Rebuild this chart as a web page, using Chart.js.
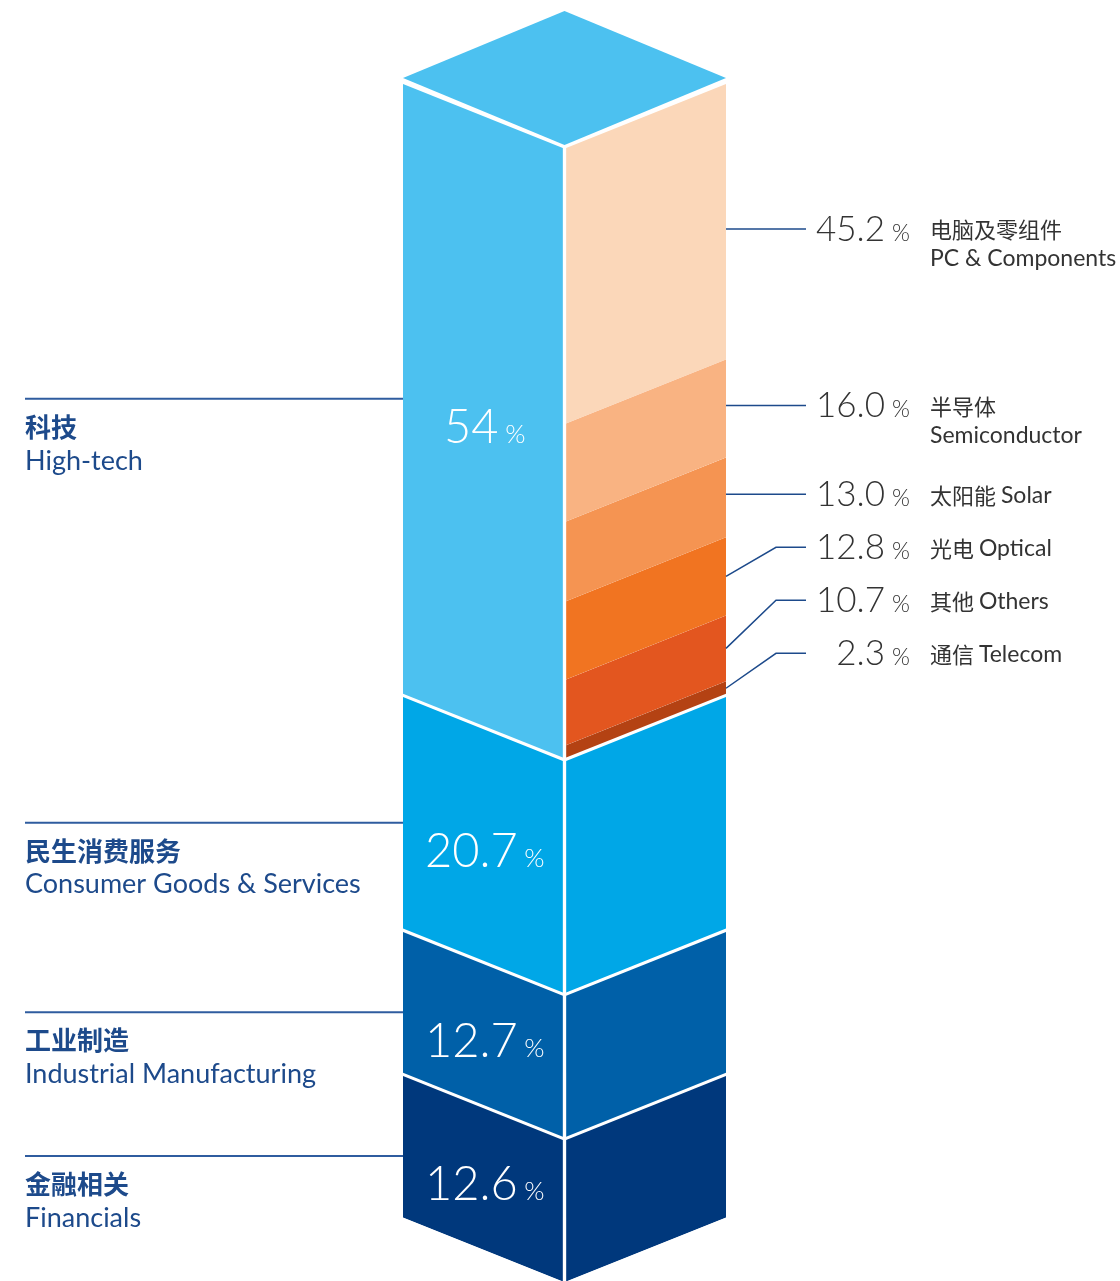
<!DOCTYPE html>
<html>
<head>
<meta charset="utf-8">
<script src="https://cdn.jsdelivr.net/npm/chart.js@4.4.0/dist/chart.umd.min.js"></script>
<style>
  html, body { margin: 0; padding: 0; background: #fff; overflow: hidden; }
  canvas { display: block; }
</style>
</head>
<body>
<canvas id="graficoCubo" width="1120" height="1300"></canvas>
<script>
// Sectores principales (cara izquierda), de abajo hacia arriba
const sectoresEn = ["Financials", "Industrial Manufacturing", "Consumer Goods & Services", "High-tech"];
const sectoresZh = ["金融相关", "工业制造", "民生消费服务", "科技"];
const valoresSector = [12.6, 12.7, 20.7, 54];
const coloresSector = ["#00387c", "#0060a8", "#00a7e7", "#4cc1f0"];

// Desglose de High-tech (cara derecha), de abajo hacia arriba
const subEn = ["Telecom", "Others", "Optical", "Solar", "Semiconductor", "PC & Components"];
const subZh = ["通信", "其他", "光电", "太阳能", "半导体", "电脑及零组件"];
const valoresSub = [2.3, 10.7, 12.8, 13.0, 16.0, 45.2];
const coloresSub = ["#b44213", "#e3561f", "#f17421", "#f59452", "#f9b382", "#fbd7b9"];

const PENDIENTE = 0.40;      // inclinación de las caras laterales
const PENDIENTE_TAPA = 0.415; // inclinación del rombo superior
const AZUL_TEXTO = "#1d4a8b";
const GRIS_TEXTO = "#333333";
const FUENTE = 'Lato, "Open Sans", sans-serif';
const FUENTE_ZH = '"Noto Sans CJK SC", sans-serif';

const idxHighTech = sectoresEn.indexOf("High-tech");

// Armar los datasets: cada sector tiene [cara izquierda, cara derecha]
const datasets = [];
sectoresEn.forEach((nombre, i) => {
  const esHighTech = i === idxHighTech;
  datasets.push({
    label: nombre,
    data: esHighTech ? [valoresSector[i], null] : [valoresSector[i], valoresSector[i]],
    backgroundColor: coloresSector[i],
    borderColor: "#ffffff",
    borderSkipped: false,
    borderWidth: (c) => c.dataIndex === 0
      ? { top: 2, bottom: i === 0 ? 0 : 2, left: 0, right: 2 }
      : { top: 2, bottom: i === 0 ? 0 : 2, left: 2, right: 0 },
  });
  if (esHighTech) {
    valoresSub.forEach((v, j) => {
      datasets.push({
        label: subEn[j],
        data: [null, (valoresSector[i] * v) / 100],
        backgroundColor: coloresSub[j],
        borderColor: "#ffffff",
        borderSkipped: false,
        borderWidth: {
          top: j === valoresSub.length - 1 ? 2 : 0,
          bottom: j === 0 ? 2 : 0,
          left: 2,
          right: 0,
        },
        esSub: true,
        subIndex: j,
      });
    });
  }
});

// Dibuja cada barra inclinada (cara izquierda baja hacia el centro, derecha sube)
const pluginInclinar = {
  id: "inclinar",
  beforeDatasetDraw(chart, args) {
    const ctx = chart.ctx;
    const area = chart.chartArea;
    const cx = (area.left + area.right) / 2;
    const ds = chart.data.datasets[args.index];
    args.meta.data.forEach((barra, k) => {
      if (ds.data[k] == null) return;
      const b = k === 0 ? PENDIENTE : -PENDIENTE;
      ctx.save();
      ctx.transform(1, b, 0, 1, 0, -b * cx);
      barra.draw(ctx);
      ctx.restore();
    });
    return false;
  },
  afterDatasetsDraw(chart) {
    const ctx = chart.ctx;
    const area = chart.chartArea;
    const cx = (area.left + area.right) / 2;
    const mitad = (area.right - area.left) / 2;
    const yTope = chart.scales.y.getPixelForValue(100);

    // Tapa superior (rombo)
    const yBase = yTope - 2;
    ctx.save();
    ctx.fillStyle = coloresSector[idxHighTech];
    ctx.beginPath();
    ctx.moveTo(cx, yBase);
    ctx.lineTo(area.left, yBase - PENDIENTE_TAPA * mitad);
    ctx.lineTo(cx, yBase - 2 * PENDIENTE_TAPA * mitad);
    ctx.lineTo(area.right, yBase - PENDIENTE_TAPA * mitad);
    ctx.closePath();
    ctx.fill();
    ctx.restore();

    // Etiquetas de la cara izquierda y textos a la izquierda
    chart.data.datasets.forEach((ds, di) => {
      if (ds.esSub) return;
      const i = sectoresEn.indexOf(ds.label);
      const barra = chart.getDatasetMeta(di).data[0];
      const medio = (barra.y + barra.base) / 2;
      const medioBorde = medio - PENDIENTE * mitad;
      const medioCara = medio - PENDIENTE * (cx - barra.x);

      // número dentro de la cara
      dibujarPorcentaje(ctx, String(valoresSector[i]), barra.x + 1, medioCara + 22, 47, 26, "#ffffff", "center", 0.14);

      // línea y textos a la izquierda
      const yLinea = medioBorde + 10;
      ctx.save();
      ctx.strokeStyle = "#2f5c9f";
      ctx.lineWidth = 2;
      ctx.beginPath();
      ctx.moveTo(25, yLinea);
      ctx.lineTo(area.left, yLinea);
      ctx.stroke();
      ctx.fillStyle = AZUL_TEXTO;
      ctx.textBaseline = "middle";
      ctx.textAlign = "left";
      ctx.font = "bold 26px " + FUENTE_ZH;
      ctx.fillText(sectoresZh[i], 25, yLinea + 28);
      ctx.font = "27px " + FUENTE;
      ctx.fillText(sectoresEn[i], 25, yLinea + 62);
      ctx.restore();
    });

    // Etiquetas de la cara derecha (desglose de High-tech), de arriba hacia abajo
    const subs = chart.data.datasets
      .map((ds, di) => ({ ds, di }))
      .filter((o) => o.ds.esSub)
      .reverse();
    let filaPrev = null;
    subs.forEach((o, n) => {
      const j = o.ds.subIndex;
      const barra = chart.getDatasetMeta(o.di).data[1];
      const medioBorde = (barra.y + barra.base) / 2 - PENDIENTE * mitad;
      const alto = barra.base - barra.y;
      // las primeras filas van rectas; las pequeñas se apilan con paso fijo
      const fila = n < 3 ? medioBorde + (alto > 200 ? 8 : -3) : filaPrev + 53;
      filaPrev = fila;

      ctx.save();
      ctx.strokeStyle = AZUL_TEXTO;
      ctx.lineWidth = 1.5;
      ctx.beginPath();
      if (n < 3) {
        ctx.moveTo(area.right, fila);
      } else {
        ctx.moveTo(area.right, medioBorde);
        ctx.lineTo(area.right + 50, fila);
      }
      ctx.lineTo(area.right + 80, fila);
      ctx.stroke();
      ctx.restore();

      dibujarPorcentaje(ctx, valoresSub[j].toFixed(1), area.right + 159, fila + 12, 35, 23, GRIS_TEXTO, "right", 0.2);

      ctx.save();
      ctx.fillStyle = GRIS_TEXTO;
      ctx.textBaseline = "middle";
      ctx.textAlign = "left";
      const xTexto = area.right + 204;
      if (alto > 90) {
        ctx.font = "22px " + FUENTE_ZH;
        ctx.fillText(subZh[j], xTexto, fila + 1);
        ctx.font = "23px " + FUENTE;
        ctx.fillText(subEn[j], xTexto, fila + 30);
      } else {
        ctx.font = "22px " + FUENTE_ZH;
        ctx.fillText(subZh[j], xTexto, fila + 1);
        const w = ctx.measureText(subZh[j] + " ").width;
        ctx.font = "23px " + FUENTE;
        ctx.fillText(subEn[j], xTexto + w, fila + 1);
      }
      ctx.restore();
    });
  },
};

// Número grande + signo % pequeño
function dibujarPorcentaje(ctx, texto, x, base, tamNum, tamPct, color, alinear, sepRel) {
  ctx.save();
  ctx.fillStyle = color;
  ctx.textBaseline = "alphabetic";
  ctx.textAlign = "left";
  ctx.font = `300 ${tamNum}px ${FUENTE}`;
  const wNum = ctx.measureText(texto).width;
  ctx.font = `300 ${tamPct}px ${FUENTE}`;
  const wPct = ctx.measureText("%").width;
  const sep = tamNum * sepRel;
  let x0;
  if (alinear === "center") {
    x0 = x - (wNum + sep + wPct) / 2;
  } else {
    x0 = x - wNum;
  }
  ctx.font = `300 ${tamNum}px ${FUENTE}`;
  ctx.fillText(texto, x0, base);
  ctx.font = `300 ${tamPct}px ${FUENTE}`;
  ctx.fillText("%", x0 + wNum + sep, base);
  ctx.restore();
}

const ctx = document.getElementById("graficoCubo").getContext("2d");
const graficoCubo = new Chart(ctx, {
  type: "bar",
  data: {
    labels: ["izquierda", "derecha"],
    datasets: datasets,
  },
  options: {
    responsive: false,
    animation: false,
    devicePixelRatio: 1,
    clip: false,
    layout: {
      padding: { left: 403, right: 394, top: 147, bottom: 18 },
    },
    datasets: {
      bar: { barPercentage: 1, categoryPercentage: 1 },
    },
    scales: {
      x: { stacked: true, display: false },
      y: { stacked: true, display: false, min: 0, max: 100 },
    },
    plugins: {
      legend: { display: false },
      tooltip: { enabled: false },
    },
  },
  plugins: [pluginInclinar],
});
</script>
</body>
</html>
